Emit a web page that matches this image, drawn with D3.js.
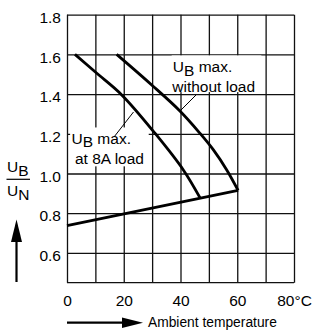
<!DOCTYPE html>
<html>
<head>
<meta charset="utf-8">
<script src="https://cdn.jsdelivr.net/npm/d3@7"></script>
<style>
  html, body { margin: 0; padding: 0; background: #fff; }
  svg { display: block; font-family: "Liberation Sans", Arial, Helvetica, sans-serif; }
</style>
</head>
<body>
<svg id="chart" width="314" height="331"></svg>
<script>
// ---- data ----
const xTicks = [0, 10, 20, 30, 40, 50, 60, 70, 80];
const xTickLabels = ["0", "", "20", "", "40", "", "60", "", "80°C"];
const yTicks = [0.6, 0.8, 1.0, 1.2, 1.4, 1.6, 1.8];
const yTickLabels = ["0.6", "0.8", "1.0", "1.2", "1.4", "1.6", "1.8"];

const tempLoad8A  = [2.8, 10.5, 19.3, 31.0, 41.0, 46.9];
const ratioLoad8A = [1.6, 1.505, 1.396, 1.203, 1.018, 0.877];

const tempNoLoad  = [17.5, 29.85, 39.8, 46.9, 51.6, 56.3, 60.3];
const ratioNoLoad = [1.6, 1.446, 1.315, 1.202, 1.119, 1.018, 0.915];

const tempMin  = [0, 60.3];
const ratioMin = [0.737, 0.915];

// ---- layout ----
const svg = d3.select("#chart");
const pL = 67, pR = 294, pT = 14.7, pB = 282.7;
const x = d3.scaleLinear().domain([0, 80]).range([pL, pR]);
const y = d3.scaleLinear().domain([0.45, 1.8]).range([pB, pT]);

svg.append("rect").attr("width", 314).attr("height", 331).attr("fill", "#fff");

// grid via axes
const gx = svg.append("g").attr("transform", `translate(0,${pB})`)
  .call(d3.axisBottom(x).tickValues(xTicks).tickSize(-(pB - pT)).tickPadding(12)
    .tickFormat((d, i) => xTickLabels[i]));
gx.select(".domain").remove();
gx.selectAll("line").attr("stroke", "#111").attr("stroke-width", 1.3);
gx.selectAll("text").attr("fill", "#000").attr("font-size", 15.5).attr("font-family", null);

const gy = svg.append("g").attr("transform", `translate(${pL},0)`)
  .call(d3.axisLeft(y).tickValues(yTicks).tickSize(-(pR - pL)).tickPadding(6)
    .tickFormat((d, i) => yTickLabels[i]));
gy.select(".domain").remove();
gy.selectAll("line").attr("stroke", "#111").attr("stroke-width", 1.3);
gy.selectAll("text").attr("fill", "#000").attr("font-size", 15.5).attr("font-family", null)
  .attr("dy", "0.5em");

// bottom frame
svg.append("line").attr("x1", pL).attr("x2", pR)
  .attr("y1", y(0.45)).attr("y2", y(0.45)).attr("stroke", "#111").attr("stroke-width", 1.3);

// label boxes (white, hide grid)
svg.append("rect").attr("x", x(1.1)).attr("y", y(1.232))
  .attr("width", x(28.8) - x(1.1)).attr("height", y(1.036) - y(1.232)).attr("fill", "#fff");
svg.append("rect").attr("x", x(36.9)).attr("y", y(1.595))
  .attr("width", x(68.5) - x(36.9)).attr("height", y(1.41) - y(1.595)).attr("fill", "#fff");

// curves
const line = d3.line().x(d => x(d[0])).y(d => y(d[1])).curve(d3.curveCatmullRom.alpha(0.5));
const curves = [
  d3.zip(tempLoad8A, ratioLoad8A),
  d3.zip(tempNoLoad, ratioNoLoad),
  d3.zip(tempMin, ratioMin)
];
svg.selectAll("path.curve").data(curves).join("path")
  .attr("class", "curve")
  .attr("d", line).attr("fill", "none").attr("stroke", "#000")
  .attr("stroke-width", 2.8).attr("stroke-linejoin", "round");

// annotations
function ubLabel(px, py, second) {
  const t = svg.append("text").attr("x", px).attr("y", py).attr("font-size", 15.5);
  t.append("tspan").text("U");
  t.append("tspan").attr("dy", 3.5).text("B");
  t.append("tspan").attr("dy", -3.5).text(" max.");
  svg.append("text").attr("x", second[0]).attr("y", second[1]).attr("font-size", 15.5).text(second[2]);
}
ubLabel(71.5, 143.5, [75, 163.5, "at 8A load"]);
ubLabel(172.8, 72, [172.3, 91.8, "without load"]);

// leader lines
svg.append("line").attr("x1", 114).attr("y1", 137).attr("x2", 133.5).attr("y2", 112)
  .attr("stroke", "#000").attr("stroke-width", 1);
svg.append("line").attr("x1", 180.5).attr("y1", 110.5).attr("x2", 196).attr("y2", 95)
  .attr("stroke", "#000").attr("stroke-width", 1);

// y axis label: U_B / U_N
const yl = svg.append("text").attr("x", 7).attr("y", 171.5).attr("font-size", 15.5);
yl.append("tspan").text("U");
yl.append("tspan").attr("dy", 4).text("B");
svg.append("line").attr("x1", 6.5).attr("x2", 30).attr("y1", 179.3).attr("y2", 179.3)
  .attr("stroke", "#000").attr("stroke-width", 1.2);
const yl2 = svg.append("text").attr("x", 7).attr("y", 196).attr("font-size", 15.5);
yl2.append("tspan").text("U");
yl2.append("tspan").attr("dy", 4).text("N");

// up arrow
svg.append("line").attr("x1", 16.5).attr("x2", 16.5).attr("y1", 282).attr("y2", 238)
  .attr("stroke", "#000").attr("stroke-width", 2.2);
svg.append("path").attr("d", "M16.5,219.5 L22,242 L11,242 Z").attr("fill", "#000");

// right arrow
svg.append("line").attr("x1", 67).attr("x2", 126).attr("y1", 322.7).attr("y2", 322.7)
  .attr("stroke", "#000").attr("stroke-width", 2.2);
svg.append("path").attr("d", "M143,322.7 L122,317.5 L122,328 Z").attr("fill", "#000");
svg.append("text").attr("x", 148).attr("y", 327).attr("font-size", 13.8).text("Ambient temperature");
</script>
</body>
</html>
